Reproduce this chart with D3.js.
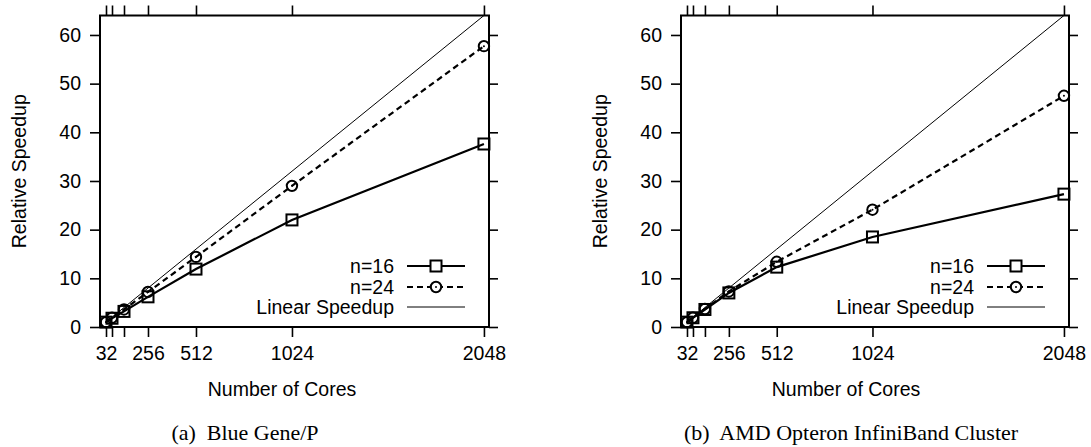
<!DOCTYPE html>
<html><head><meta charset="utf-8">
<script src="https://cdn.jsdelivr.net/npm/d3@7"></script>
<style>
html,body{margin:0;padding:0;background:#fff;}
svg{display:block;}
text{fill:#000;}
</style></head>
<body>
<svg id="c" width="1091" height="447"></svg>
<script>
// ---- data ----
const cores = [32, 64, 128, 256, 512, 1024, 2048];
const xTickValues = [32, 64, 128, 256, 512, 1024, 2048];
const xTickLabels = ["32", "", "", "256", "512", "1024", "2048"];
const yTickValues = [0, 10, 20, 30, 40, 50, 60];
const linearSpeedup = [1, 2, 4, 8, 16, 32, 64];
const bgpN16 = [1, 1.8, 3.2, 6.2, 11.9, 22.0, 37.6];
const bgpN24 = [1, 1.9, 3.6, 7.2, 14.4, 29.0, 57.7];
const amdN16 = [1, 1.9, 3.6, 7.0, 12.3, 18.5, 27.3];
const amdN24 = [1, 1.9, 3.7, 7.3, 13.4, 24.1, 47.5];
const seriesNames = ["n=16", "n=24", "Linear Speedup"];
const captions = ["(a)  Blue Gene/P", "(b)  AMD Opteron InfiniBand Cluster"];
const xTitle = "Number of Cores";
const yTitle = "Relative Speedup";

// ---- layout ----
const panels = [
  {x0: 100, x1: 489, n16: bgpN16, n24: bgpN24, caption: captions[0], xTitleX: 282, capX: 245},
  {x0: 681, x1: 1069, n16: amdN16, n24: amdN24, caption: captions[1], xTitleX: 846, capX: 851}
];
const plotTop = 15.5, plotBottom = 327;
const font = "'Liberation Sans', Arial, Helvetica, sans-serif";
const svg = d3.select("#c");

panels.forEach(p => {
  const x = d3.scaleLinear().domain([0, 2075]).range([p.x0, p.x1]);
  const y = d3.scaleLinear().domain([0, 64]).range([plotBottom, plotTop]);
  const g = svg.append("g");

  const cid = "clip" + p.x0;
  svg.append("clipPath").attr("id", cid).append("rect")
    .attr("x", p.x0).attr("y", plotTop).attr("width", p.x1 - p.x0).attr("height", plotBottom - plotTop);

  const fmt = d => xTickLabels[xTickValues.indexOf(d)];
  const axB = g.append("g").attr("transform", `translate(0,${plotBottom})`)
    .call(d3.axisBottom(x).tickValues(xTickValues).tickFormat(fmt).tickSize(10).tickSizeOuter(0).tickPadding(9));
  const axT = g.append("g").attr("transform", `translate(0,${plotTop})`)
    .call(d3.axisTop(x).tickValues(xTickValues).tickFormat("").tickSize(10).tickSizeOuter(0));
  const axL = g.append("g").attr("transform", `translate(${p.x0},0)`)
    .call(d3.axisLeft(y).tickValues(yTickValues).tickSize(10).tickSizeOuter(0).tickPadding(9));
  const axR = g.append("g").attr("transform", `translate(${p.x1},0)`)
    .call(d3.axisRight(y).tickValues(yTickValues).tickFormat("").tickSize(9).tickSizeOuter(0));
  [axB, axT, axL, axR].forEach(a => {
    a.selectAll("path.domain").remove();
    a.selectAll("line").attr("stroke", "#000").attr("stroke-width", 1.6);
    a.selectAll("text").style("font-family", font).style("font-size", "19.5px").attr("fill", "#000");
  });
  axB.selectAll("text").attr("dy", "0.71em");
  g.append("rect").attr("x", p.x0).attr("y", plotTop).attr("width", p.x1 - p.x0).attr("height", plotBottom - plotTop)
    .attr("fill", "none").attr("stroke", "#000").attr("stroke-width", 2);

  const line = d3.line().x(d => x(d[0])).y(d => y(d[1]));
  const plot = g.append("g").attr("clip-path", `url(#${cid})`);
  plot.append("path").datum(cores.map((c, i) => [c, linearSpeedup[i]]))
    .attr("d", line).attr("fill", "none").attr("stroke", "#000").attr("stroke-width", 1);
  plot.append("path").datum(cores.map((c, i) => [c, p.n24[i]]))
    .attr("d", line).attr("fill", "none").attr("stroke", "#000").attr("stroke-width", 2.2)
    .attr("stroke-dasharray", "6,4");
  plot.append("path").datum(cores.map((c, i) => [c, p.n16[i]]))
    .attr("d", line).attr("fill", "none").attr("stroke", "#000").attr("stroke-width", 2.2);

  const square = (sel, cx, cy) => sel.append("rect").attr("x", cx - 5.5).attr("y", cy - 5.5)
    .attr("width", 11).attr("height", 11).attr("fill", "none").attr("stroke", "#000").attr("stroke-width", 2);
  const circ = (sel, cx, cy) => {
    sel.append("circle").attr("cx", cx).attr("cy", cy).attr("r", 5.2)
      .attr("fill", "none").attr("stroke", "#000").attr("stroke-width", 2);
    sel.append("circle").attr("cx", cx).attr("cy", cy).attr("r", 1).attr("fill", "#000");
  };
  const mk = g.append("g");
  cores.forEach((c, i) => square(mk, x(c), y(p.n16[i])));
  cores.forEach((c, i) => circ(mk, x(c), y(p.n24[i])));

  const lg = g.append("g");
  const rows = [266, 287, 307];
  const tx = p.x1 - 95, l0 = p.x1 - 82, l1 = p.x1 - 24, lm = p.x1 - 53;
  seriesNames.forEach((s, i) => {
    lg.append("text").attr("x", tx).attr("y", rows[i]).attr("dy", "0.35em")
      .attr("text-anchor", "end").style("font-family", font).style("font-size", "19.5px").text(s);
  });
  lg.append("line").attr("x1", l0).attr("x2", l1).attr("y1", rows[0]).attr("y2", rows[0])
    .attr("stroke", "#000").attr("stroke-width", 2.2);
  lg.append("rect").attr("x", lm - 6).attr("y", rows[0] - 6).attr("width", 12).attr("height", 12).attr("fill", "#fff");
  square(lg, lm, rows[0]);
  lg.append("line").attr("x1", l0).attr("x2", l1).attr("y1", rows[1]).attr("y2", rows[1])
    .attr("stroke", "#000").attr("stroke-width", 2.2).attr("stroke-dasharray", "6,4");
  lg.append("circle").attr("cx", lm).attr("cy", rows[1]).attr("r", 6).attr("fill", "#fff");
  circ(lg, lm, rows[1]);
  lg.append("line").attr("x1", l0).attr("x2", l1).attr("y1", rows[2]).attr("y2", rows[2])
    .attr("stroke", "#000").attr("stroke-width", 1);

  g.append("text").attr("x", p.xTitleX).attr("y", 389).attr("dy", "0.35em").attr("text-anchor", "middle")
    .style("font-family", font).style("font-size", "19.5px").text(xTitle);
  g.append("text").attr("transform", `translate(${p.x0 - 81},${(plotTop + plotBottom) / 2}) rotate(-90)`)
    .attr("dy", "0.35em").attr("text-anchor", "middle")
    .style("font-family", font).style("font-size", "19.5px").text(yTitle);
  g.append("text").attr("x", p.capX).attr("y", 440).attr("text-anchor", "middle")
    .style("font-family", "'Liberation Serif', 'DejaVu Serif', serif").style("font-size", "22px")
    .style("white-space", "pre").attr("xml:space", "preserve").text(p.caption);
});
</script>
</body></html>
